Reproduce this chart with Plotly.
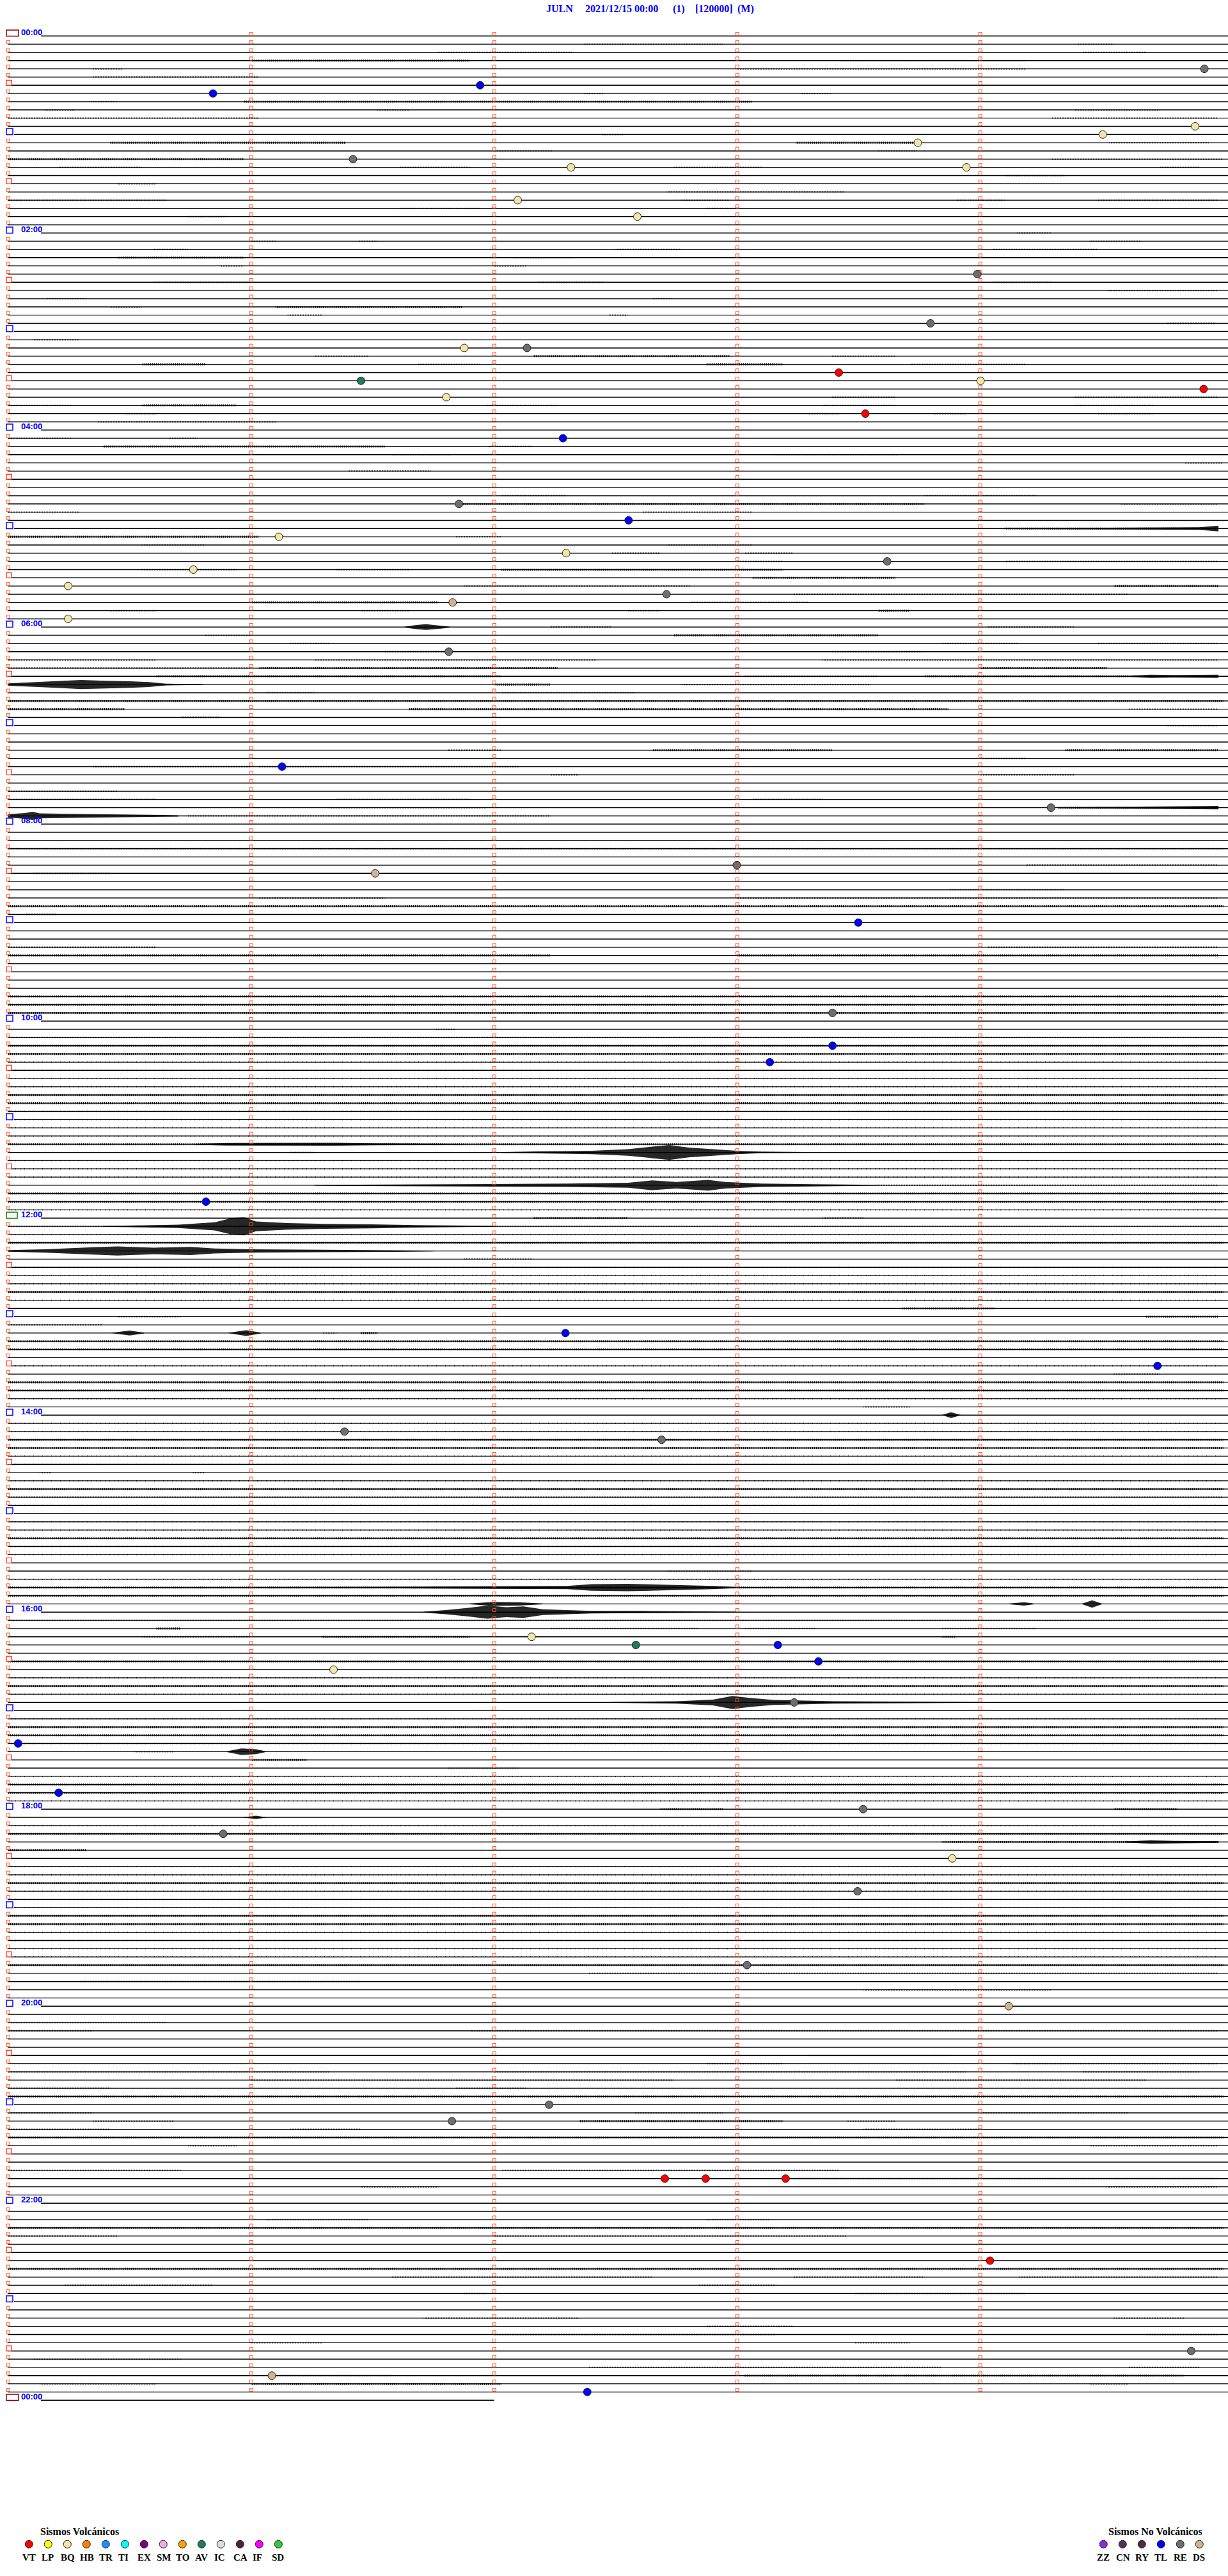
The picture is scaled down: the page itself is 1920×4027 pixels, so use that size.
import plotly.graph_objects as go

# ---------------- header / labels ----------------
station = "JULN"
start_label = "2021/12/15 00:00"
channel_tag = "(1)"
scale_tag = "[120000]"
mode_tag = "(M)"

n_lines = 288                      # 5-minute traces over 24 h
tick_minutes = [1, 2, 3, 4]
hour_label_lines = [0, 24, 48, 72, 96, 120, 144, 168, 192, 216, 240, 264, 288]
hour_label_texts = ["00:00", "02:00", "04:00", "06:00", "08:00", "10:00", "12:00",
                    "14:00", "16:00", "18:00", "20:00", "22:00", "00:00"]
last_line_end_min = 2.0

# ---------------- classified events (line index, minute in line, type) ----------------
ev_line = [4, 6, 7, 11, 12, 13, 15, 16, 16, 20, 22, 29, 35, 38, 38, 41, 42, 42, 43, 44, 46, 49, 57,
           59, 61, 63, 64, 65, 67, 68, 69, 71, 75, 89, 94, 101, 102, 108,
           119, 123, 125, 142, 158, 162, 170, 171,
           195, 196, 196, 198, 199, 203, 208, 214, 216, 219, 222, 226, 235,
           240, 252, 254, 261, 261, 261, 271, 282, 285, 287]
ev_min = [4.922, 1.942, 0.843, 4.884, 4.504, 3.743, 1.419, 2.316, 3.943, 2.097, 2.589, 3.988, 3.795,
          1.877, 2.135, 3.418, 1.452, 4.001, 4.919, 1.803, 3.527, 2.283, 1.855,
          2.553, 1.114, 2.296, 3.617, 0.762, 0.247, 2.709, 1.829, 0.247, 1.813, 1.127, 4.291, 2.998, 1.510, 3.498,
          3.392, 3.392, 3.134, 0.814, 2.293, 4.729, 1.384, 2.689,
          2.154, 2.583, 3.167, 3.334, 1.339, 3.234, 0.041, 0.208, 3.518, 0.885, 3.885, 3.495, 3.040,
          4.117, 2.226, 1.826, 2.702, 2.870, 3.199, 4.040, 4.868, 1.085, 2.383]
ev_type = ["RE", "TL", "TL", "BQ", "BQ", "BQ", "RE", "BQ", "BQ", "BQ", "BQ", "RE", "RE", "BQ", "RE", "VT",
           "AV", "BQ", "VT", "BQ", "VT", "TL", "RE",
           "TL", "BQ", "BQ", "RE", "BQ", "BQ", "RE", "DS", "BQ", "RE", "TL", "RE", "RE", "DS", "TL",
           "RE", "TL", "TL", "TL", "TL", "TL", "RE", "RE",
           "BQ", "AV", "TL", "TL", "BQ", "RE", "TL", "TL", "RE", "RE", "BQ", "RE", "RE",
           "DS", "RE", "RE", "VT", "VT", "VT", "VT", "RE", "DS", "TL"]

# ---------------- legend categories ----------------
volc_codes = ["VT", "LP", "BQ", "HB", "TR", "TI", "EX", "SM", "TO", "AV", "IC", "CA", "IF", "SD"]
volc_colors = ["#ff0000", "#ffff00", "#f3e6a4", "#ff8000", "#1e8fff", "#00ffff", "#800080",
               "#f0aee0", "#ffa000", "#1e7b5c", "#dcdcdc", "#4a2442", "#ff00ff", "#33cc33"]
nonvolc_codes = ["ZZ", "CN", "RY", "TL", "RE", "DS"]
nonvolc_colors = ["#8a2be2", "#4e3656", "#4d2b4d", "#0000ff", "#6e6e6e", "#d2b48c"]

# ---------------- trace noise read from the record ----------------
# (line, start minute, end minute)
light_noise = [
    (1, 2.37, 2.94), (1, 4.40, 4.55), (2, 1.77, 2.32), (2, 4.42, 4.68), (3, 3.42, 4.19), (4, 0.35, 0.47),
    (4, 3.0, 4.19), (5, 0.35, 1.03), (7, 2.37, 2.45), (7, 3.26, 3.39), (8, 0.34, 0.45), (9, 0.15, 0.27),
    (9, 1.52, 1.65), (9, 4.39, 4.74), (10, 0.0, 1.03), (10, 4.29, 4.98), (12, 2.44, 2.53), (13, 4.53, 4.94),
    (14, 2.0, 2.24), (14, 3.58, 3.74), (15, 4.29, 5.0), (16, 0.21, 0.55), (16, 1.61, 1.90), (16, 2.74, 3.10),
    (16, 4.74, 4.9), (17, 4.10, 4.35), (18, 0.45, 0.61), (19, 2.71, 3.44), (20, 0.0, 0.65), (20, 2.77, 2.97),
    (20, 3.90, 4.10), (20, 4.48, 4.98), (21, 1.61, 1.94), (21, 2.87, 3.0), (22, 0.74, 0.90), (24, 4.15, 4.29),
    (25, 1.0, 1.1), (25, 1.44, 1.52), (25, 4.45, 4.66), (26, 0.6, 0.74), (26, 2.5, 2.77), (26, 4.05, 4.48),
    (27, 2.08, 2.32), (28, 0.87, 0.97), (28, 2.0, 2.13), (30, 0.6, 1.0), (30, 2.18, 2.45), (30, 4.05, 4.29),
    (31, 4.52, 4.98), (32, 0.16, 0.32), (32, 2.65, 2.73), (33, 0.42, 0.55), (34, 1.15, 1.29), (34, 2.47, 2.55),
    (35, 4.77, 4.97), (37, 0.1, 0.29), (39, 1.26, 1.48), (39, 3.39, 3.65), (40, 1.68, 1.94), (40, 3.71, 4.19),
    (44, 3.39, 3.65), (44, 4.39, 4.98), (45, 0.0, 0.26), (45, 1.97, 2.26), (45, 3.35, 3.65), (45, 4.39, 4.71),
    (46, 0.48, 0.61), (46, 3.29, 3.42), (46, 3.81, 3.94), (46, 4.48, 4.71), (47, 0.37, 1.10), (49, 0.0, 0.26),
    (49, 0.66, 0.78), (50, 1.98, 2.16), (51, 1.58, 1.82), (51, 3.15, 3.66), (52, 4.84, 5.0), (53, 1.40, 1.74),
    (56, 2.03, 2.29), (56, 3.77, 4.23), (57, 4.58, 4.98),
    (58, 0.0, 0.29), (58, 2.61, 3.06), (61, 1.84, 2.03), (62, 0.55, 0.81), (62, 2.71, 3.06), (63, 2.48, 2.68),
    (63, 3.03, 3.23), (64, 3.0, 3.19), (64, 4.10, 4.98), (65, 0.55, 0.94), (65, 1.35, 1.65), (67, 1.87, 2.81),
    (68, 3.23, 4.61), (69, 2.81, 3.29), (70, 0.42, 0.61), (70, 1.45, 1.65), (70, 2.55, 2.68), (72, 2.23, 2.48),
    (72, 4.03, 4.39), (73, 0.81, 1.0), (74, 1.16, 1.32), (74, 3.84, 4.16), (74, 4.48, 4.98), (75, 1.55, 1.81),
    (75, 3.39, 3.77), (76, 0.0, 0.61), (76, 1.26, 2.42), (76, 3.35, 4.98), (77, 0.0, 1.0), (78, 3.03, 3.58),
    (79, 2.77, 3.55), (80, 1.06, 1.26), (80, 2.03, 2.58), (82, 4.61, 4.98), (83, 0.71, 0.87), (84, 4.77, 4.98),
    (87, 1.81, 2.03), (88, 4.0, 4.19), (89, 0.35, 1.0), (89, 1.03, 2.1), (90, 2.23, 2.35), (90, 4.0, 4.39),
    (92, 0.0, 0.45), (93, 0.0, 0.61), (93, 1.35, 1.90), (93, 3.06, 3.35), (94, 1.32, 1.97), (95, 0.74, 2.23),
    (99, 0.0, 5.0), (101, 4.19, 4.98), (102, 0.1, 0.42), (104, 3.87, 4.35), (105, 1.03, 1.55), (105, 3.0, 4.98),
    (107, 0.07, 0.2), (111, 0.0, 0.61), (111, 4.03, 4.98),
    (121, 1.76, 1.84), (122, 0.0, 5.0), (136, 1.16, 1.26), (140, 3.58, 4.98), (144, 3.35, 3.52), (145, 0.0, 5.0),
    (149, 1.87, 2.16), (156, 0.45, 0.71), (157, 0.0, 0.39), (158, 1.29, 1.35), (163, 4.55, 4.74),
    (167, 3.52, 3.71), (175, 0.13, 0.18), (175, 0.76, 0.81),
    (178, 0.0, 5.0), (187, 2.71, 3.06), (193, 0.0, 5.0), (194, 2.23, 2.84), (194, 3.03, 3.32), (194, 3.84, 4.23),
    (195, 0.55, 1.0), (209, 0.52, 0.68), (211, 1.81, 2.10),
    (236, 2.39, 4.98), (237, 0.29, 1.45), (238, 3.52, 4.29), (242, 0.0, 0.65), (243, 0.0, 0.35), (243, 1.90, 4.98),
    (246, 3.29, 3.87), (247, 2.87, 3.19), (247, 4.13, 4.98), (248, 0.0, 1.32), (248, 2.0, 3.94), (248, 4.42, 4.9),
    (249, 1.0, 2.74), (249, 3.65, 4.68), (250, 0.0, 0.42), (250, 1.84, 2.13), (253, 0.0, 0.35), (253, 2.58, 2.94),
    (253, 4.0, 4.61), (254, 0.35, 0.68), (254, 3.45, 3.65), (255, 0.0, 0.42), (255, 1.16, 1.45), (255, 3.52, 4.0),
    (257, 0.74, 0.94), (257, 4.45, 4.98), (260, 0.0, 0.71), (260, 2.03, 3.42), (261, 3.23, 4.98), (262, 1.45, 1.77),
    (262, 4.52, 4.98), (266, 1.06, 1.48), (266, 2.87, 3.13), (268, 0.0, 0.45), (268, 2.0, 3.45), (273, 1.58, 2.65),
    (273, 3.23, 3.77), (273, 4.16, 4.98), (274, 0.23, 0.84), (274, 2.84, 3.16), (275, 1.87, 1.97), (275, 3.48, 4.19),
    (278, 1.71, 2.35), (278, 4.55, 4.84), (279, 2.87, 3.23), (280, 2.0, 3.16), (280, 4.68, 4.98), (281, 1.0, 1.29),
    (281, 3.48, 3.71), (283, 0.1, 0.71), (284, 2.39, 3.84), (284, 4.61, 4.9), (285, 1.10, 1.58), (286, 0.13, 0.61),
    (286, 4.45, 4.61),
]
faint_lines = [125, 126, 127, 128, 131, 132, 133, 134, 137, 138, 139, 143, 146, 150, 151, 152, 154, 162, 166,
               169, 170, 173, 174, 176, 179, 181, 182, 184, 185, 188, 200, 202, 205, 208, 212, 215, 218, 223,
               224, 226, 227, 228, 231, 232, 233, 234]
moderate_noise = [
    (3, 1.0, 1.90), (8, 0.97, 3.06), (13, 0.42, 1.39), (13, 3.24, 3.74), (15, 0.0, 0.97), (27, 0.45, 0.97),
    (33, 1.10, 1.87), (39, 2.16, 2.97), (40, 0.55, 0.81), (40, 2.87, 3.19), (45, 0.55, 0.94), (50, 0.39, 1.55),
    (57, 1.87, 3.77), (60, 4.10, 4.98), (61, 0.0, 1.03), (65, 2.03, 3.19), (66, 3.06, 3.65), (67, 4.55, 4.98),
    (69, 1.0, 1.77), (70, 3.58, 3.71), (73, 2.74, 3.58), (77, 1.03, 2.26), (77, 4.0, 4.52), (78, 0.61, 2.03),
    (78, 3.77, 4.61), (79, 2.0, 2.23), (81, 0.0, 5.0), (82, 0.0, 0.48), (82, 1.65, 3.87), (87, 2.65, 3.39),
    (87, 4.35, 4.98), (94, 4.32, 4.98), (106, 0.0, 5.0), (112, 0.0, 2.23), (112, 3.0, 4.98),
    (117, 0.0, 5.0), (118, 0.0, 5.0), (119, 0.0, 5.0), (123, 0.0, 5.0), (124, 0.0, 5.0), (129, 0.0, 5.0),
    (130, 0.0, 5.0), (135, 0.0, 5.0), (141, 0.0, 5.0), (142, 0.0, 5.0), (144, 2.16, 2.55), (147, 0.0, 5.0),
    (153, 0.0, 5.0), (155, 3.68, 4.06), (156, 4.68, 4.98), (158, 1.45, 1.52), (159, 0.0, 5.0), (160, 0.0, 5.0),
    (164, 0.0, 5.0), (165, 0.0, 5.0), (171, 0.0, 5.0), (172, 0.0, 5.0),
    (177, 0.0, 5.0), (183, 0.0, 5.0), (189, 0.0, 5.0), (190, 0.0, 5.0), (194, 0.61, 0.71), (195, 1.29, 1.90),
    (195, 3.84, 3.90), (198, 0.0, 5.0), (201, 0.0, 5.0), (206, 0.0, 5.0), (207, 0.0, 5.0), (210, 1.0, 1.23),
    (213, 0.0, 5.0), (214, 0.0, 5.0), (216, 2.68, 2.94), (216, 4.55, 4.81), (219, 0.0, 5.0), (220, 3.84, 4.98),
    (221, 0.0, 0.32), (225, 0.0, 5.0), (229, 0.0, 5.0), (230, 0.0, 5.0), (235, 0.0, 5.0), (251, 0.0, 5.0),
    (254, 2.35, 3.19), (256, 0.0, 5.0), (267, 0.0, 5.0), (272, 0.0, 5.0), (285, 3.03, 4.84), (286, 1.0, 2.03),
]
# larger signals: (line, [(minute, half-amplitude in trace spacings), ...])
bursts = [
    (60, [(4.10, 0.05), (4.6, 0.1), (4.9, 0.15), (4.98, 0.35)]),
    (72, [(1.63, 0.05), (1.68, 0.25), (1.72, 0.35), (1.78, 0.2), (1.82, 0.05)]),
    (78, [(4.61, 0.08), (4.7, 0.2), (4.8, 0.15), (4.98, 0.2)]),
    (79, [(0.0, 0.15), (0.1, 0.3), (0.2, 0.4), (0.3, 0.55), (0.4, 0.45), (0.5, 0.4), (0.58, 0.3), (0.65, 0.1), (0.8, 0.05)]),
    (94, [(4.32, 0.05), (4.6, 0.1), (4.98, 0.2)]),
    (95, [(0.0, 0.2), (0.07, 0.35), (0.1, 0.5), (0.13, 0.3), (0.25, 0.25), (0.45, 0.2), (0.7, 0.08)]),
    (135, [(0.77, 0.05), (0.9, 0.15), (1.35, 0.18), (1.5, 0.12), (1.87, 0.05)]),
    (136, [(2.03, 0.05), (2.2, 0.15), (2.4, 0.2), (2.55, 0.4), (2.65, 0.7), (2.72, 0.9), (2.8, 0.6), (2.9, 0.4), (3.0, 0.2), (3.1, 0.1), (3.3, 0.04)]),
    (140, [(1.26, 0.05), (1.6, 0.1), (1.95, 0.15), (2.3, 0.2), (2.55, 0.3), (2.65, 0.6), (2.75, 0.4), (2.88, 0.65), (2.95, 0.4), (3.1, 0.2), (3.58, 0.05)]),
    (145, [(0.39, 0.05), (0.7, 0.2), (0.85, 0.5), (0.92, 1.0), (0.97, 1.1), (1.02, 0.6), (1.15, 0.4), (1.3, 0.3), (1.5, 0.25), (1.68, 0.15), (2.0, 0.05)]),
    (148, [(0.0, 0.1), (0.15, 0.2), (0.35, 0.45), (0.45, 0.55), (0.6, 0.4), (0.75, 0.5), (0.85, 0.3), (1.0, 0.2), (1.3, 0.15), (1.6, 0.12), (1.75, 0.05)]),
    (158, [(0.42, 0.02), (0.5, 0.3), (0.56, 0.05)]),
    (158, [(0.9, 0.02), (0.98, 0.35), (1.04, 0.05)]),
    (168, [(3.84, 0.02), (3.88, 0.35), (3.92, 0.02)]),
    (189, [(0.61, 0.05), (1.6, 0.1), (2.3, 0.2), (2.4, 0.4), (2.55, 0.45), (2.7, 0.35), (2.9, 0.2), (3.0, 0.05)]),
    (191, [(1.9, 0.05), (2.0, 0.25), (2.1, 0.2), (2.2, 0.05)]),
    (191, [(4.12, 0.05), (4.18, 0.2), (4.22, 0.05)]),
    (191, [(4.42, 0.05), (4.46, 0.45), (4.5, 0.05)]),
    (192, [(1.71, 0.05), (1.8, 0.25), (1.9, 0.55), (1.97, 0.8), (2.05, 0.6), (2.12, 0.7), (2.2, 0.35), (2.4, 0.15), (2.6, 0.15), (3.0, 0.05)]),
    (203, [(2.48, 0.05), (2.75, 0.15), (2.9, 0.35), (2.98, 0.8), (3.05, 0.55), (3.15, 0.3), (3.4, 0.15), (3.8, 0.1), (4.0, 0.05)]),
    (209, [(0.9, 0.05), (0.96, 0.4), (1.02, 0.3), (1.06, 0.05)]),
    (217, [(0.97, 0.03), (1.02, 0.2), (1.06, 0.03)]),
    (220, [(4.6, 0.08), (4.7, 0.2), (4.8, 0.15), (4.98, 0.1)]),
]

# ---------------- page geometry ----------------
W, H = 1920, 4027
X0, PXM = 12.7, 380.0      # pixel of minute 0, pixels per minute
Y0, PXL = 56.3, 12.833     # pixel of trace 0, pixels per trace


def tx(px):
    return (px - X0) / PXM


def ly(py):
    return (py - Y0) / PXL


type_color = dict(zip(volc_codes + nonvolc_codes, volc_colors + nonvolc_colors))
X_END = tx(W)

fig = go.Figure()

# base traces
bx, by = [], []
for i in range(n_lines + 1):
    if i in hour_label_lines:
        x_start = tx(64)
    elif i % 12 == 0:
        x_start = tx(22)
    else:
        x_start = tx(12)
    x_end = last_line_end_min if i == n_lines else X_END
    bx += [x_start, x_end, None]
    by += [i, i, None]
fig.add_trace(go.Scatter(x=bx, y=by, mode="lines", line=dict(color="black", width=1.4),
                         hoverinfo="skip", showlegend=False))


def band(segs, half):
    xs, ys = [], []
    for ln, t0, t1 in segs:
        xs += [t0, t1, t1, t0, t0, None]
        ys += [ln - half, ln - half, ln + half, ln + half, ln - half, None]
    return xs, ys


def hatched(xs, ys, size, solidity):
    return go.Scatter(x=xs, y=ys, mode="lines", fill="toself", fillcolor="rgba(0,0,0,0)",
                      fillpattern=dict(shape="|", size=size, solidity=solidity, fgcolor="black",
                                       bgcolor="rgba(0,0,0,0)", fillmode="replace"),
                      line=dict(width=0, color="black"), hoverinfo="skip", showlegend=False)


fx, fy = band([(ln, 0.0, 5.0) for ln in faint_lines], 0.07)
fig.add_trace(hatched(fx, fy, 7, 0.15))
lx, lyy = band(light_noise, 0.09)
fig.add_trace(hatched(lx, lyy, 4, 0.3))
mx, my = band(moderate_noise, 0.12)
fig.add_trace(hatched(mx, my, 3, 0.5))

ex, ey = [], []
for ln, prof in bursts:
    ts = [p[0] for p in prof]
    am = [p[1] for p in prof]
    ex += ts + ts[::-1] + [ts[0], None]
    ey += [ln - a for a in am] + [ln + a for a in am[::-1]] + [ln - am[0], None]
fig.add_trace(hatched(ex, ey, 2, 0.85))

# minute ticks
kx, ky = [], []
for i in range(n_lines):
    mins = ([0] if i % 6 != 0 else []) + tick_minutes
    for m in mins:
        kx.append(m)
        ky.append(i - 0.26)
fig.add_trace(go.Scatter(x=kx, y=ky, mode="markers",
                         marker=dict(symbol="square-open", size=5, color="#ff4a1a", line=dict(width=1)),
                         hoverinfo="skip", showlegend=False))

shapes = []
# half-hour boxes
for i in range(6, n_lines, 12):
    shapes.append(dict(type="rect", xref="x", yref="y", x0=tx(10), x1=tx(18), y0=i - 8 / PXL, y1=i,
                       line=dict(color="#ff1a00", width=1.2), fillcolor="white"))
# hour boxes
for i in range(0, n_lines + 1, 12):
    if i in (0, n_lines):
        col, x1 = "#800000", tx(29)
    elif i == 144:
        col, x1 = "#008000", tx(27)
    else:
        col, x1 = "#0000ff", tx(20)
    shapes.append(dict(type="rect", xref="x", yref="y", x0=tx(10), x1=x1, y0=i - 9.3 / PXL, y1=i + 0.3 / PXL,
                       line=dict(color=col, width=1.5), fillcolor="white"))

annotations = []
for ln, txt in zip(hour_label_lines, hour_label_texts):
    annotations.append(dict(x=30.5 / W, y=1 - (Y0 + PXL * ln + 4) / H, xref="paper", yref="paper",
                            xanchor="left", yanchor="bottom", text="<b>%s</b>" % txt, showarrow=False,
                            font=dict(family="Liberation Sans, Arial", size=13, color="#0000ff")))

# classified event markers
for code in nonvolc_codes + volc_codes:
    idx = [k for k, t in enumerate(ev_type) if t == code]
    if not idx:
        continue
    fig.add_trace(go.Scatter(x=[ev_min[k] for k in idx], y=[ev_line[k] for k in idx], mode="markers",
                             marker=dict(size=12, color=type_color[code], line=dict(color="#222", width=1)),
                             hoverinfo="skip", showlegend=False))

# title
for txt, px in [(station, 853), (start_label, 914), (channel_tag, 1051), (scale_tag, 1086), (mode_tag, 1152)]:
    annotations.append(dict(x=(px - 1) / W, y=1 - 14 / H, xref="paper", yref="paper", xanchor="left",
                            yanchor="middle", text="<b>%s</b>" % txt, showarrow=False,
                            font=dict(family="Liberation Serif, Times New Roman", size=16, color="#0000ff")))

# legends
LEG_MARK_Y, LEG_LAB_Y, LEG_TTL_Y = 3977.3, 3997.5, 3957.0
legend_groups = [("Sismos Volcánicos", 124, 45.3, volc_codes, volc_colors),
                 ("Sismos No Volcánicos", 1806, 1725.3, nonvolc_codes, nonvolc_colors)]
for title, tcx, mx0, codes, cols in legend_groups:
    xs = [mx0 + 30 * k for k in range(len(codes))]
    fig.add_trace(go.Scatter(x=[tx(v) for v in xs], y=[ly(LEG_MARK_Y)] * len(xs), mode="markers",
                             marker=dict(size=12, color=cols, line=dict(color="#222", width=1)),
                             hoverinfo="skip", showlegend=False, cliponaxis=False))
    annotations.append(dict(x=tcx / W, y=1 - LEG_TTL_Y / H, xref="paper", yref="paper", xanchor="center",
                            yanchor="middle", text="<b>%s</b>" % title, showarrow=False,
                            font=dict(family="Liberation Serif, Times New Roman", size=16, color="black")))
    for v, c in zip(xs, codes):
        annotations.append(dict(x=(v - 12) / W, y=1 - LEG_LAB_Y / H, xref="paper", yref="paper",
                                xanchor="left", yanchor="middle", text="<b>%s</b>" % c, showarrow=False,
                                font=dict(family="Liberation Serif, Times New Roman", size=15, color="black")))

fig.update_layout(
    width=W, height=H, margin=dict(l=0, r=0, t=0, b=0, pad=0),
    paper_bgcolor="white", plot_bgcolor="white",
    xaxis=dict(range=[tx(0), tx(W)], visible=False, fixedrange=True),
    yaxis=dict(range=[ly(H), ly(0)], visible=False, fixedrange=True),
    shapes=shapes, annotations=annotations, showlegend=False,
)

fig.write_html("out.html", config={"displayModeBar": False},
               post_script="document.body.style.margin='0px';")
